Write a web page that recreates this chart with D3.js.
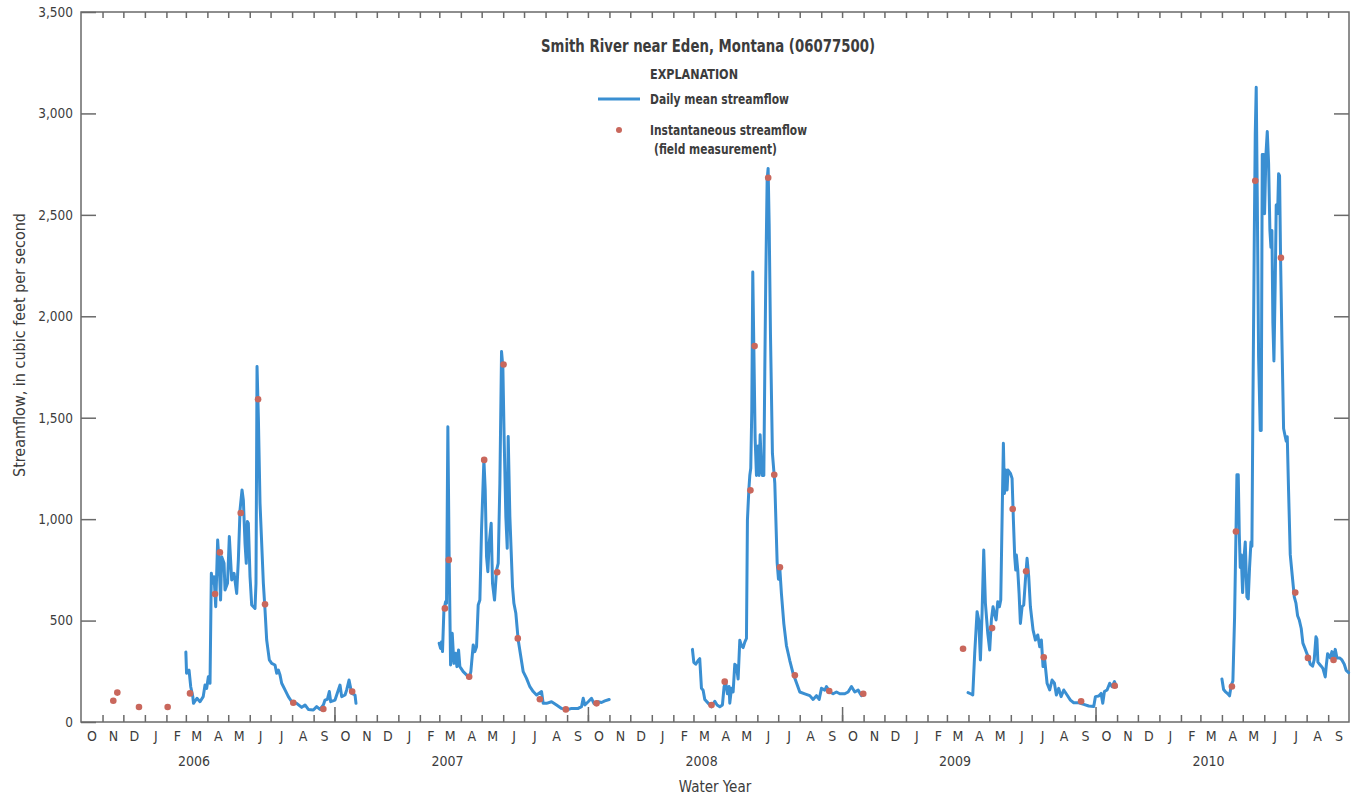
<!DOCTYPE html>
<html>
<head>
<meta charset="utf-8">
<script src="https://cdn.jsdelivr.net/npm/d3@7"></script>
<style>
  body { margin: 0; background: #fff; }
  svg text { font-family: "Liberation Sans Narrow", "Arial Narrow", "DejaVu Sans Condensed", sans-serif; fill: #3c3c3c; }
</style>
</head>
<body>
<div id="chart"></div>
<script>
// daily mean streamflow, traced per water year (day = days since Oct 1 of the water year start)
const wy2006Day = [151,152,155.6,158,161,162,167,171.4,176,178.6,181,183.4,185.8,187.7,189.6,191.6,194,196.8,199,201,202.6,206,207.4,211,213.6,217,220.4,224.2,226.6,229,231.9,233.8,236.2,238,239.6,241,243.4,245.8,250.6,252,253.5,255.4,257.8,262.6,265,267.4,271.2,274.6,279.4,281.8,284.2,286.6,289,293.8,298.6,303.4,310.6,317.8,322.6,327.4,334.6,339.4,344.2,349,351.4,354.8,357.6,359.6,365.8,373,375.4,380.2,382.6,386,389.8,394.6,396];
const wy2006Cfs = [345,240,256,174,125,92,117,100,125,182,166,223,191,733,684,716,568,897,782,601,815,782,651,684,914,700,733,634,799,1045,1144,1094,881,782,988,980,716,577,560,684,1752,1505,1078,684,552,404,306,289,281,240,256,232,191,158,125,100,92,72,84,62,59,76,62,84,108,112,150,100,108,182,125,133,158,207,141,133,92];

const wy2007Day = [150.8,152.8,154.2,155.6,157.6,160,161.4,163.3,165.2,167.2,169.6,172,174.4,176.3,178.7,180.6,185.4,190.2,194,196.4,199.8,202.2,204.6,207,209.4,211.8,215.2,217.1,219,220.9,222.8,225.7,227.6,230.5,233.4,235.8,238.2,240.6,242.5,244.4,246.8,248.8,250.2,252.6,256.4,258.4,261.2,264.6,268,271.8,276.6,281.4,286.2,291,298.2,300.6,305.4,312.6,319.8,327,334.2,341.4,351,355.8,358.2,360.6,365.4,370.2,373.6,379.8,384.6,389.4,395.6];
const wy2007Cfs = [388,363,396,347,552,593,585,1456,799,281,437,289,339,273,355,273,248,232,215,248,380,347,371,577,601,947,1292,1144,815,741,881,980,684,601,749,782,1177,1826,1752,1390,1012,856,1407,1012,667,585,536,404,330,248,215,174,150,133,150,92,92,100,84,67,59,67,67,76,117,84,100,117,92,100,96,104,111];

const wy2008Day = [150.5,152.5,155.3,158.7,161,163.5,165.9,168.3,173.1,177.9,182.7,186,189.9,193.7,196.1,198.5,200.9,203.3,204.3,206.7,209.1,211.5,213.9,216.3,218.7,221.1,223.5,225.9,228.3,229.7,231.7,233.1,234.5,236,237.4,238.9,240.8,242.7,245.1,246.5,248,249.9,251.3,253.3,254.7,256.1,258.1,259.5,261,262.9,265.7,269.1,272.5,274.4,276.3,278.7,282.1,285.9,290.7,295.5,300.3,305.1,312.3,319.5,324.3,329.1,333,336.3,341.1,343.5,348.3,353.1,357.9,362.7,369.9,374.7,379.5,384.3,389.1,393.9,396.3];
const wy2008Cfs = [358,294,285,303,312,166,157,111,93,75,102,84,75,84,175,193,139,175,93,166,148,285,276,212,403,376,367,394,412,996,1142,1215,1251,1543,2218,1853,1397,1215,1361,1215,1416,1251,1215,1215,1726,2182,2674,2729,2455,1908,1324,1178,786,704,759,631,485,376,303,239,193,148,139,130,111,130,111,166,157,175,148,139,148,139,139,148,175,148,157,130,139];

const wy2009Day = [181.4,185.8,188.2,191,194.4,196.8,199.2,201.6,204,206.4,209.8,212.6,215,217.4,219.4,221.8,224.2,226.6,228.5,230.4,232.3,233.8,235.7,237.6,239,242.4,244.8,246.7,248.6,250.1,251,253,254.9,256.8,259.2,261.6,264,266.4,268.8,271.2,275,278.4,281.8,284.6,287,289.4,291.8,295.2,299,302.4,305.8,308.6,312,315.4,319.2,324,328.8,333.6,340.8,348,355.2,362.4,364.8,369.6,373,375.4,377.8,381.6,385.4,388.8,392.2,395];
const wy2009Cfs = [145,138,133,339,544,503,306,536,848,585,437,355,503,568,536,503,593,568,601,996,1374,1127,1242,1144,1242,1226,1201,996,815,749,823,749,634,486,568,577,700,807,716,568,454,404,429,371,404,273,306,191,158,207,191,133,166,125,158,133,108,95,95,87,79,76,125,128,141,92,150,158,191,174,199,174];

const wy2010Day = [182,184.4,186.8,190.2,193,195.4,197.8,200.2,202.2,203.6,205.5,207,208.4,209.8,211.8,214.2,215.6,218,219.9,221.8,223.8,225.2,226.6,228.6,230,231.4,232.9,234.8,237.2,238.6,240.1,242,243.4,245.4,247.3,249.2,251.1,252.6,254,255.4,256.9,258.8,260.2,262.2,263.6,265,266.5,268.4,270.8,273.2,274.6,276.1,278,280.4,283.3,286.2,288.6,291,293.4,296.2,298.6,301,304.4,306.8,309.2,312.6,314.9,317.4,318.8,320.2,322.6,325,327.4,330.8,332.2,334.2,336.1,338,340.4,342.8,345.2,347.6,351.4,354.8,358.2,361,364.4];
const wy2010Cfs = [212,160,150,140,129,181,202,513,928,1219,1219,928,762,825,638,825,887,617,607,762,887,866,1551,2382,2901,3129,2589,1800,1437,1437,2797,2797,2506,2797,2911,2755,2423,2340,2423,1966,1780,2174,2548,2506,2703,2693,2278,1883,1447,1406,1385,1406,1136,825,721,617,586,524,503,461,389,368,337,316,285,275,306,420,409,295,285,275,264,222,275,337,326,316,347,316,358,316,316,306,285,254,243];

// field measurements (instantaneous streamflow)
const meas2006Day = [46.5,52.3,83.5,124.8,157,193,200,230,255,265,305.7,349,390.5];
const meas2006Cfs = [105,145,74,74,141,631,836,1030,1591,580,95,64,150];
const meas2007Day = [159,164.7,194,215.6,234.3,243.5,264,295.8,333.2,377.4];
const meas2007Cfs = [560,799,223,1292,738,1762,412,112,62,92];
const meas2008Day = [178,197,234,240,259.6,268.3,276.5,298,347.5,396.5];
const meas2008Cfs = [84,199,1142,1853,2683,1219,763,230,153,139];
const meas2009Day = [174.2,216,245.7,265,290.4,344.2,392.6];
const meas2009Cfs = [361,463,1050,743,319,102,179];
const meas2010Day = [196.4,202.2,230,267,287.6,305.9,342.7];
const meas2010Cfs = [175,939,2668,2288,638,316,306];

const waterYears = [2006, 2007, 2008, 2009, 2010];
const monthLetters = ['O','N','D','J','F','M','A','M','J','J','A','S'];
const yTicks = [0, 500, 1000, 1500, 2000, 2500, 3000, 3500];

const flowDays = [wy2006Day, wy2007Day, wy2008Day, wy2009Day, wy2010Day];
const flowCfs = [wy2006Cfs, wy2007Cfs, wy2008Cfs, wy2009Cfs, wy2010Cfs];
const measDays = [meas2006Day, meas2007Day, meas2008Day, meas2009Day, meas2010Day];
const measCfs = [meas2006Cfs, meas2007Cfs, meas2008Cfs, meas2009Cfs, meas2010Cfs];

const width = 1362, height = 799;
const margin = { top: 12, right: 13, bottom: 77, left: 81 };
const lineColor = '#3a8fd2';
const dotColor = '#c9675c';
const axisColor = '#6a6a6a';

function wyDate(wy, day) {
    return new Date(new Date(wy - 1, 9, 1).getTime() + day * 864e5);
}

const svg = d3.select('#chart').append('svg')
    .attr('width', width)
    .attr('height', height);

const x = d3.scaleTime()
    .domain([new Date(2005, 9, 1), new Date(2010, 9, 1)])
    .range([margin.left, width - margin.right]);
const y = d3.scaleLinear()
    .domain([0, 3500])
    .range([height - margin.bottom, margin.top]);

const x0 = x.range()[0], x1 = x.range()[1];
const yb = y(0), yt = y(3500);

// month boundaries, mid-month label positions, water-year boundaries
const monthStarts = d3.timeMonth.range(new Date(2005, 10, 1), new Date(2010, 9, 1));
const monthMids = d3.timeMonth.range(new Date(2005, 9, 1), new Date(2010, 9, 1))
    .map(d => new Date(d.getFullYear(), d.getMonth(), 16));
const yearBounds = waterYears.slice(0, -1).map(wy => new Date(wy, 9, 1));

// bottom axis: short month ticks, long year ticks
svg.append('g')
    .attr('transform', `translate(0,${yb})`)
    .call(d3.axisBottom(x).tickValues(monthStarts).tickSizeInner(-7).tickSizeOuter(0).tickFormat(''))
    .call(g => g.select('.domain').remove());
svg.append('g')
    .attr('transform', `translate(0,${yb})`)
    .call(d3.axisBottom(x).tickValues(yearBounds).tickSizeInner(-15).tickSizeOuter(0).tickFormat(''))
    .call(g => g.select('.domain').remove());
// top axis
svg.append('g')
    .attr('transform', `translate(0,${yt})`)
    .call(d3.axisTop(x).tickValues(monthStarts).tickSizeInner(-6).tickSizeOuter(0).tickFormat(''))
    .call(g => g.select('.domain').remove());

// month letters
svg.append('g')
    .attr('transform', `translate(0,${yb})`)
    .call(d3.axisBottom(x).tickValues(monthMids).tickSize(0).tickPadding(9)
        .tickFormat(d => monthLetters[(d.getMonth() + 3) % 12]))
    .call(g => g.select('.domain').remove())
    .selectAll('text').attr('font-size', 14);

// water year labels
svg.append('g')
    .attr('transform', `translate(0,${yb})`)
    .call(d3.axisBottom(x).tickValues(waterYears.map(wy => new Date(wy, 2, 12))).tickSize(0).tickPadding(34)
        .tickFormat(d => d.getFullYear()))
    .call(g => g.select('.domain').remove())
    .selectAll('text').attr('font-size', 14);

// y axes
svg.append('g')
    .attr('transform', `translate(${x0},0)`)
    .call(d3.axisLeft(y).tickValues(yTicks).tickSizeInner(-15).tickSizeOuter(0).tickPadding(8)
        .tickFormat(d3.format(',')))
    .call(g => g.select('.domain').remove())
    .selectAll('text').attr('font-size', 13.5);
svg.append('g')
    .attr('transform', `translate(${x1},0)`)
    .call(d3.axisRight(y).tickValues(yTicks.slice(1, -1)).tickSizeInner(-15).tickSizeOuter(0).tickFormat(''))
    .call(g => g.select('.domain').remove());

svg.selectAll('.tick line').attr('stroke', axisColor).attr('stroke-width', 1.5);

// frame
svg.append('rect')
    .attr('x', x0).attr('y', yt)
    .attr('width', x1 - x0).attr('height', yb - yt)
    .attr('fill', 'none')
    .attr('stroke', axisColor)
    .attr('stroke-width', 1.5);

// hydrographs, one unbroken line per water year
const line = d3.line()
    .x(d => x(d.date))
    .y(d => y(d.cfs));

waterYears.forEach((wy, i) => {
    const pts = flowDays[i].map((day, j) => ({ date: wyDate(wy, day), cfs: flowCfs[i][j] }));
    svg.append('path')
        .datum(pts)
        .attr('d', line)
        .attr('fill', 'none')
        .attr('stroke', lineColor)
        .attr('stroke-width', 3)
        .attr('stroke-linejoin', 'round')
        .attr('stroke-linecap', 'round');
});

waterYears.forEach((wy, i) => {
    const pts = measDays[i].map((day, j) => ({ date: wyDate(wy, day), cfs: measCfs[i][j] }));
    svg.append('g').selectAll('circle')
        .data(pts)
        .enter()
        .append('circle')
        .attr('cx', d => x(d.date))
        .attr('cy', d => y(d.cfs))
        .attr('r', 3.3)
        .attr('fill', dotColor);
});

// axis titles
svg.append('text')
    .attr('transform', `translate(25,345) rotate(-90)`)
    .attr('text-anchor', 'middle')
    .attr('font-size', 16)
    .text('Streamflow, in cubic feet per second');
svg.append('text')
    .attr('x', (x0 + x1) / 2)
    .attr('y', 792)
    .attr('text-anchor', 'middle')
    .attr('font-size', 15)
    .text('Water Year');

// title and explanation (condensed to the original text widths)
svg.append('text')
    .attr('x', 541)
    .attr('y', 52)
    .attr('font-size', 17)
    .attr('font-weight', 'bold')
    .attr('textLength', 334)
    .attr('lengthAdjust', 'spacingAndGlyphs')
    .text('Smith River near Eden, Montana (06077500)');

const legend = svg.append('g').attr('font-weight', 'bold').attr('font-size', 14);
function legendText(tx, ty, len, str) {
    legend.append('text').attr('x', tx).attr('y', ty)
        .attr('textLength', len).attr('lengthAdjust', 'spacingAndGlyphs')
        .text(str);
}
legendText(650, 79, 88, 'EXPLANATION');
legend.append('line')
    .attr('x1', 598).attr('x2', 640).attr('y1', 99).attr('y2', 99)
    .attr('stroke', lineColor).attr('stroke-width', 3);
legendText(650, 104, 139, 'Daily mean streamflow');
legend.append('circle').attr('cx', 619).attr('cy', 130).attr('r', 3).attr('fill', dotColor);
legendText(650, 135, 157, 'Instantaneous streamflow');
legendText(654, 154, 123, '(field measurement)');
</script>
</body>
</html>
